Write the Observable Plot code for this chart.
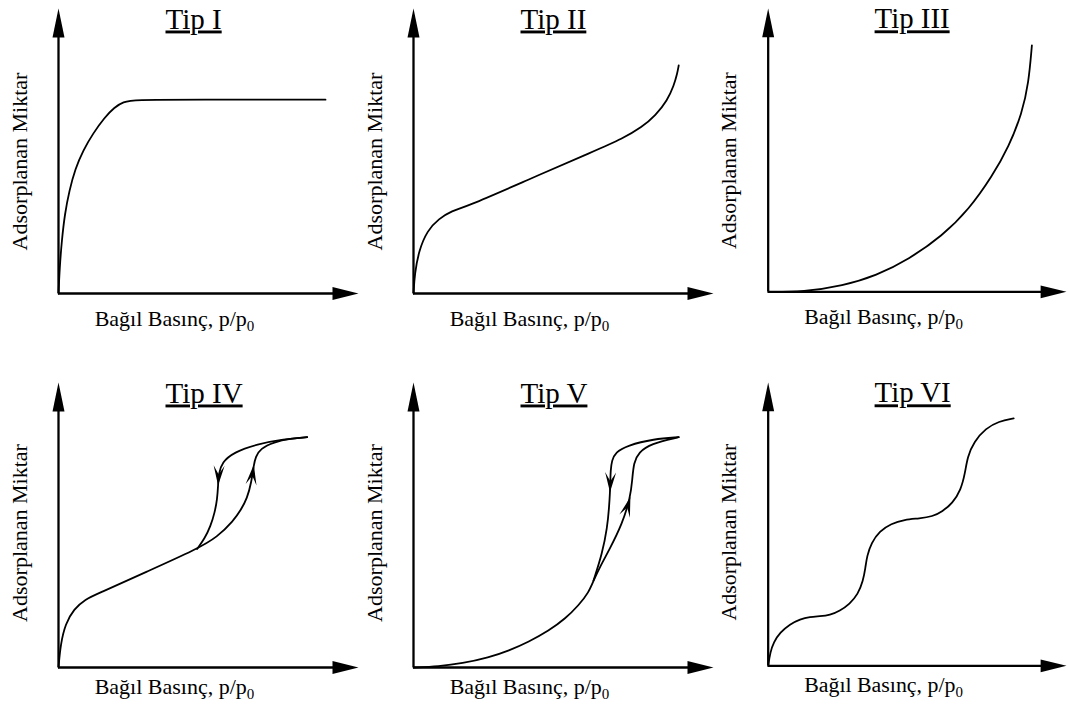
<!DOCTYPE html>
<html><head><meta charset="utf-8">
<script src="https://cdn.jsdelivr.net/npm/d3@7"></script>
<script src="https://cdn.jsdelivr.net/npm/@observablehq/plot@0.6"></script>
<style>
html,body{margin:0;padding:0;background:#fff;overflow:hidden;}
#root{position:relative;width:1068px;height:709px;overflow:hidden;background:#fff;}
.panel{position:absolute;}
</style></head><body><div id="root"></div>
<script>
// ---- texts ----
const titles = ["Tip I", "Tip II", "Tip III", "Tip IV", "Tip V", "Tip VI"];
const yLabel = "Adsorplanan Miktar";
const xLabelMain = "Bağıl Basınç, p/p";
const xLabelSub = "0";

// ---- axis domains (relative pressure, adsorbed amount; arrow tips at the ends) ----
const xDomain = [0, 1];
const yDomain = [0, 1];

// ---- Tip I ----
const tip1X = [0, 0.004, 0.011, 0.021, 0.036, 0.056, 0.082, 0.116, 0.153, 0.187, 0.216, 0.251, 0.45, 0.89];
const tip1Y = [0, 0.092, 0.186, 0.279, 0.361, 0.438, 0.502, 0.563, 0.617, 0.654, 0.672, 0.68, 0.68, 0.68];

// ---- Tip II ----
const tip2X = [0, 0.004, 0.018, 0.046, 0.084, 0.129, 0.173, 0.373, 0.607, 0.696, 0.762, 0.807, 0.846, 0.868, 0.879, 0.884];
const tip2Y = [0, 0.069, 0.151, 0.221, 0.262, 0.291, 0.303, 0.395, 0.502, 0.543, 0.584, 0.625, 0.677, 0.73, 0.771, 0.8];

// ---- Tip III ----
const tip3X = [0, 0.118, 0.251, 0.362, 0.473, 0.584, 0.673, 0.751, 0.807, 0.851, 0.873, 0.884];
const tip3Y = [0, 0, 0.022, 0.057, 0.116, 0.198, 0.291, 0.408, 0.513, 0.631, 0.736, 0.87];

// ---- Tip IV (main + adsorption branch, desorption branch listed in travel order) ----
const tip4MainX = [0, 0.007, 0.023, 0.051, 0.09, 0.129, 0.296, 0.462];
const tip4MainY = [0, 0.082, 0.153, 0.205, 0.24, 0.258, 0.337, 0.416];
const tip4AdsX = [0.462, 0.529, 0.584, 0.607, 0.629, 0.643, 0.651, 0.657, 0.673, 0.718, 0.773, 0.829];
const tip4AdsY = [0.416, 0.457, 0.516, 0.551, 0.594, 0.65, 0.711, 0.739, 0.768, 0.791, 0.803, 0.808];
const tip4DesX = [0.829, 0.751, 0.662, 0.584, 0.545, 0.534, 0.532, 0.529, 0.521, 0.507, 0.487, 0.462];
const tip4DesY = [0.808, 0.801, 0.784, 0.755, 0.72, 0.68, 0.639, 0.59, 0.545, 0.496, 0.452, 0.416];
const tip4AdsArrow = 6;
const tip4DesArrow = 6;

// ---- Tip V ----
const tip5MainX = [0, 0.084, 0.162, 0.251, 0.318, 0.384, 0.451, 0.507, 0.551, 0.584, 0.6];
const tip5MainY = [0, 0.004, 0.014, 0.035, 0.059, 0.09, 0.129, 0.172, 0.219, 0.263, 0.305];
const tip5AdsX = [0.6, 0.625, 0.651, 0.696, 0.723, 0.729, 0.734, 0.751, 0.79, 0.884];
const tip5AdsY = [0.305, 0.36, 0.41, 0.504, 0.598, 0.656, 0.72, 0.755, 0.785, 0.808];
const tip5DesX = [0.884, 0.801, 0.712, 0.673, 0.661, 0.657, 0.656, 0.655, 0.652, 0.646, 0.629, 0.6];
const tip5DesY = [0.808, 0.802, 0.779, 0.755, 0.726, 0.691, 0.65, 0.615, 0.562, 0.492, 0.399, 0.305];
const tip5AdsArrow = 4;
const tip5DesArrow = 7;

// ---- Tip VI ----
const tip6X = [0, 0.007, 0.018, 0.04, 0.073, 0.107, 0.14, 0.173, 0.207, 0.24, 0.273, 0.301, 0.318, 0.326, 0.331, 0.346, 0.373, 0.412, 0.457, 0.507, 0.551, 0.584, 0.618, 0.646, 0.66, 0.668, 0.69, 0.729, 0.773, 0.823];
const tip6Y = [0, 0.048, 0.083, 0.118, 0.147, 0.165, 0.173, 0.175, 0.179, 0.194, 0.218, 0.253, 0.299, 0.346, 0.387, 0.434, 0.475, 0.502, 0.516, 0.52, 0.527, 0.545, 0.574, 0.621, 0.68, 0.738, 0.791, 0.838, 0.863, 0.873];

// ---- layout ----
const W = 360, H = 335, ML = 58, MR = 2, MT = 8, MB = 42;
const COLSTEP = 355, ROWSTEP = 374;
const FONT = "'Liberation Serif', 'Times New Roman', Times, serif";
const xPx = W - ML - MR, yPx = H - MT - MB;

function pts(xs, ys) { return xs.map((x, i) => ({x, y: ys[i]})); }

function headSymbol(L, Wd, notch, angleDeg) {
  const a = angleDeg * Math.PI / 180, c = Math.cos(a), s = Math.sin(a);
  const P = (u, v) => [u * c - v * s, u * s + v * c];
  return {draw(ctx) {
    const t = P(0, 0), l = P(-L, -Wd / 2), m = P(-L * notch, 0), r = P(-L, Wd / 2);
    ctx.moveTo(t[0], t[1]); ctx.lineTo(l[0], l[1]); ctx.lineTo(m[0], m[1]); ctx.lineTo(r[0], r[1]); ctx.closePath();
  }};
}
function dirAngle(xs, ys, i) {
  const dx = (xs[i] - xs[i - 1]) * xPx / (xDomain[1] - xDomain[0]);
  const dy = -(ys[i] - ys[i - 1]) * yPx / (yDomain[1] - yDomain[0]);
  return Math.atan2(dy, dx) * 180 / Math.PI;
}

const panels = [
  {title: titles[0], lines: [pts(tip1X, tip1Y)], heads: []},
  {title: titles[1], lines: [pts(tip2X, tip2Y)], heads: []},
  {title: titles[2], lines: [pts(tip3X, tip3Y)], heads: []},
  {title: titles[3], lines: [pts(tip4MainX.concat(tip4AdsX.slice(1)), tip4MainY.concat(tip4AdsY.slice(1))), pts(tip4DesX, tip4DesY)],
   heads: [[tip4AdsX, tip4AdsY, tip4AdsArrow], [tip4DesX, tip4DesY, tip4DesArrow]]},
  {title: titles[4], lines: [pts(tip5MainX.concat(tip5AdsX.slice(1)), tip5MainY.concat(tip5AdsY.slice(1))), pts(tip5DesX, tip5DesY)],
   heads: [[tip5AdsX, tip5AdsY, tip5AdsArrow], [tip5DesX, tip5DesY, tip5DesArrow]]},
  {title: titles[5], lines: [pts(tip6X, tip6Y)], heads: []}
];

const root = document.getElementById("root");
panels.forEach((p, k) => {
  const row = Math.floor(k / 3), col = k % 3;
  const marks = [
    Plot.ruleY([yDomain[0]], {strokeWidth: 2.3, stroke: "black", insetRight: 12}),
    Plot.ruleX([xDomain[0]], {strokeWidth: 2.3, stroke: "black", insetTop: 12}),
    Plot.dot([{x: xDomain[1], y: yDomain[0]}], {x: "x", y: "y", symbol: headSymbol(26, 13, 1, 0), fill: "black", stroke: "none"}),
    Plot.dot([{x: xDomain[0], y: yDomain[1]}], {x: "x", y: "y", symbol: headSymbol(29, 12, 1, -90), fill: "black", stroke: "none"}),
    ...p.lines.map(d => Plot.line(d, {x: "x", y: "y", curve: "basis", stroke: "black", strokeWidth: 1.8})),
    ...p.heads.map(([xs, ys, i]) => Plot.dot([{x: xs[i], y: ys[i]}], {x: "x", y: "y",
      symbol: headSymbol(20, 11, 0.55, dirAngle(xs, ys, i)), fill: "black", stroke: "none"})),
    Plot.text([p.title], {text: d => d, frameAnchor: "top-left", dx: 107, dy: 20, textAnchor: "start", lineAnchor: "bottom",
      fontSize: 29, fontFamily: FONT, fill: "black"}),
    Plot.text([yLabel], {text: d => d, frameAnchor: "left", rotate: -90, dx: -32, dy: row ? 8 : 10.5, textAnchor: "middle",
      lineAnchor: "bottom", fontSize: 22, fontFamily: FONT, fill: "black"}),
    Plot.text([xLabelMain], {text: d => d, frameAnchor: "bottom", dx: -34, dy: row ? 26 : 32, textAnchor: "middle",
      lineAnchor: "bottom", fontSize: 22, fontFamily: FONT, fill: "black"})
  ];
  const svg = Plot.plot({
    width: W, height: H, marginLeft: ML, marginRight: MR, marginTop: MT, marginBottom: MB,
    x: {domain: xDomain, axis: null},
    y: {domain: yDomain, axis: null},
    style: {background: "transparent", fontFamily: FONT, overflow: "visible"},
    marks
  });
  svg.querySelectorAll("text").forEach(t => {
    if (t.textContent === p.title) t.setAttribute("text-decoration", "underline");
    if (t.textContent === xLabelMain) {
      const ts = document.createElementNS("http://www.w3.org/2000/svg", "tspan");
      ts.setAttribute("dy", "5");
      ts.setAttribute("font-size", "15");
      ts.textContent = xLabelSub;
      t.appendChild(ts);
    }
  });
  const div = document.createElement("div");
  div.className = "panel";
  div.style.left = (col * COLSTEP) + "px";
  div.style.top = (row * ROWSTEP) + "px";
  div.appendChild(svg);
  root.appendChild(div);
});
</script>
</body></html>
